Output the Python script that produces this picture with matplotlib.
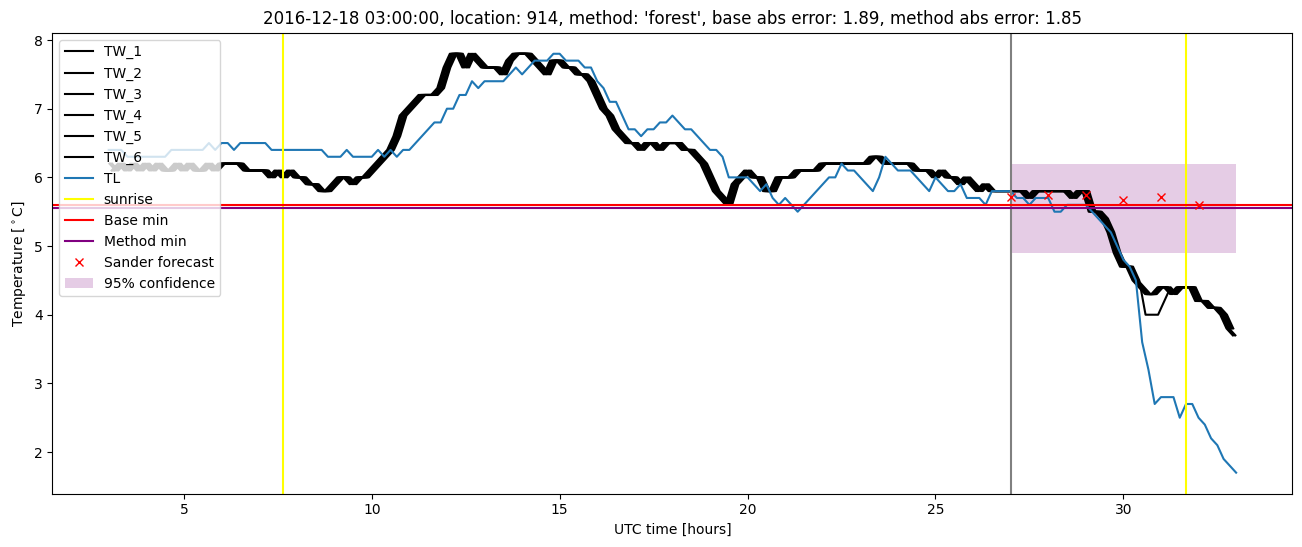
import numpy as np
import matplotlib
matplotlib.use("Agg")
import matplotlib.pyplot as plt

# 10-minute samples from 03:00 to 33:00 (hours since 2016-12-17 00:00 UTC)
tl = [
    6.4, 6.4, 6.4, 6.3, 6.3, 6.3,
    6.3, 6.3, 6.3, 6.3, 6.4, 6.4,
    6.4, 6.4, 6.4, 6.4, 6.5, 6.4,
    6.5, 6.5, 6.4, 6.5, 6.5, 6.5,
    6.5, 6.5, 6.4, 6.4, 6.4, 6.4,
    6.4, 6.4, 6.4, 6.4, 6.4, 6.3,
    6.3, 6.3, 6.4, 6.3, 6.3, 6.3,
    6.3, 6.4, 6.3, 6.4, 6.3, 6.4,
    6.4, 6.5, 6.6, 6.7, 6.8, 6.8,
    7.0, 7.0, 7.2, 7.2, 7.4, 7.3,
    7.4, 7.4, 7.4, 7.4, 7.5, 7.6,
    7.5, 7.6, 7.7, 7.7, 7.7, 7.8,
    7.8, 7.7, 7.7, 7.7, 7.6, 7.6,
    7.4, 7.3, 7.1, 7.1, 6.9, 6.7,
    6.7, 6.6, 6.7, 6.7, 6.8, 6.8,
    6.9, 6.8, 6.7, 6.7, 6.6, 6.5,
    6.4, 6.4, 6.3, 6.0, 6.0, 6.0,
    6.0, 5.9, 5.8, 5.9, 5.7, 5.6,
    5.7, 5.6, 5.5, 5.6, 5.7, 5.8,
    5.9, 6.0, 6.0, 6.2, 6.1, 6.1,
    6.0, 5.9, 5.8, 6.0, 6.3, 6.2,
    6.1, 6.1, 6.1, 6.0, 5.9, 5.8,
    6.0, 5.9, 5.8, 5.8, 5.9, 5.7,
    5.7, 5.7, 5.6, 5.8, 5.8, 5.8,
    5.8, 5.7, 5.7, 5.6, 5.7, 5.7,
    5.7, 5.5, 5.5, 5.6, 5.6, 5.6,
    5.6, 5.5, 5.4, 5.3, 5.2, 5.0,
    4.8, 4.7, 4.5, 3.6, 3.2, 2.7,
    2.8, 2.8, 2.8, 2.5, 2.7, 2.7,
    2.5, 2.4, 2.2, 2.1, 1.9, 1.8,
    1.7,
]

tw = [
    6.2, 6.1, 6.2, 6.1, 6.2, 6.1,
    6.2, 6.1, 6.2, 6.1, 6.1, 6.2,
    6.1, 6.2, 6.1, 6.1, 6.2, 6.1,
    6.2, 6.2, 6.2, 6.2, 6.1, 6.1,
    6.1, 6.1, 6.0, 6.1, 6.0, 6.1,
    6.0, 6.0, 5.9, 5.9, 5.8, 5.8,
    5.9, 6.0, 6.0, 5.9, 6.0, 6.0,
    6.1, 6.2, 6.3, 6.4, 6.6, 6.9,
    7.0, 7.1, 7.2, 7.2, 7.2, 7.3,
    7.6, 7.8, 7.8, 7.6, 7.8, 7.7,
    7.6, 7.6, 7.6, 7.5, 7.7, 7.8,
    7.8, 7.8, 7.7, 7.6, 7.5, 7.7,
    7.7, 7.6, 7.6, 7.5, 7.5, 7.4,
    7.2, 7.0, 6.9, 6.7, 6.6, 6.5,
    6.5, 6.4, 6.5, 6.5, 6.4, 6.5,
    6.5, 6.5, 6.4, 6.4, 6.3, 6.2,
    6.0, 5.8, 5.7, 5.6, 5.9, 6.0,
    6.1, 6.0, 6.0, 5.8, 5.8, 6.0,
    6.0, 6.0, 6.1, 6.1, 6.1, 6.1,
    6.2, 6.2, 6.2, 6.2, 6.2, 6.2,
    6.2, 6.2, 6.3, 6.3, 6.2, 6.2,
    6.2, 6.2, 6.2, 6.1, 6.1, 6.1,
    6.0, 6.1, 6.0, 6.0, 5.9, 6.0,
    5.9, 5.8, 5.9, 5.8, 5.8, 5.8,
    5.8, 5.8, 5.8, 5.7, 5.8, 5.8,
    5.8, 5.8, 5.8, 5.8, 5.7, 5.8,
    5.8, 5.5, 5.5, 5.4, 5.2, 4.9,
    4.7, 4.7, 4.5, 4.4, 4.3, 4.3,
    4.4, 4.4, 4.3, 4.4, 4.4, 4.4,
    4.2, 4.2, 4.1, 4.1, 4.0, 3.8,
    3.7,
]

# the six sensors lag each other slightly (hours)
tw_lags = [-0.09, -0.055, -0.02, 0.02, 0.055, 0.09]
# TW_6 dips lower between 30:30 and 31:00
tw6_dip_hours = [30.5, 30.667, 30.833, 31.0]
tw6_dip_values = [4.0, 4.0, 4.0, 4.2]

sunrise_hours = [7.65, 31.67]
forecast_start = 27.0
base_min = 5.60
method_min = 5.56
sander_hours = [27, 28, 29, 30, 31, 32]
sander_values = [5.72, 5.74, 5.74, 5.67, 5.71, 5.60]
conf_hours = [27, 33]
conf_low = [4.9, 4.9]
conf_high = [6.2, 6.2]

hours = 3 + np.arange(len(tl)) / 6.0

fig = plt.figure(figsize=(13.02, 5.47), dpi=100)
ax = fig.add_axes([0.0402, 0.0976, 0.9525, 0.8424])

for i, lag in enumerate(tw_lags):
    vals = np.array(tw, dtype=float)
    if i == 5:
        for h, v in zip(tw6_dip_hours, tw6_dip_values):
            vals[np.argmin(np.abs(hours - h))] = v
    x = hours + lag
    keep = (x >= 3.0) & (x <= 33.0)
    ax.plot(x[keep], vals[keep], color='black', label='TW_%d' % (i + 1))

ax.plot(hours, tl, color='C0', label='TL')
for j, h in enumerate(sunrise_hours):
    ax.axvline(h, color='yellow', label='sunrise' if j == 0 else None)
ax.axvline(forecast_start, color='gray')
ax.axhline(base_min, color='red', label='Base min')
ax.axhline(method_min, color='purple', label='Method min')
ax.plot(sander_hours, sander_values, 'x', color='red', label='Sander forecast')
ax.fill_between(conf_hours, conf_low, conf_high, color='purple', alpha=0.2,
                linewidth=0, label='95% confidence')

ax.set_xlim(1.5, 34.5)
ax.set_ylim(1.395, 8.105)
ax.set_xlabel('UTC time [hours]')
ax.set_ylabel(r'Temperature [$^\circ$C]')
ax.set_title("2016-12-18 03:00:00, location: 914, method: 'forest', "
             "base abs error: 1.89, method abs error: 1.85")
ax.legend(loc='upper left')

fig.savefig('out.png', dpi=100)
